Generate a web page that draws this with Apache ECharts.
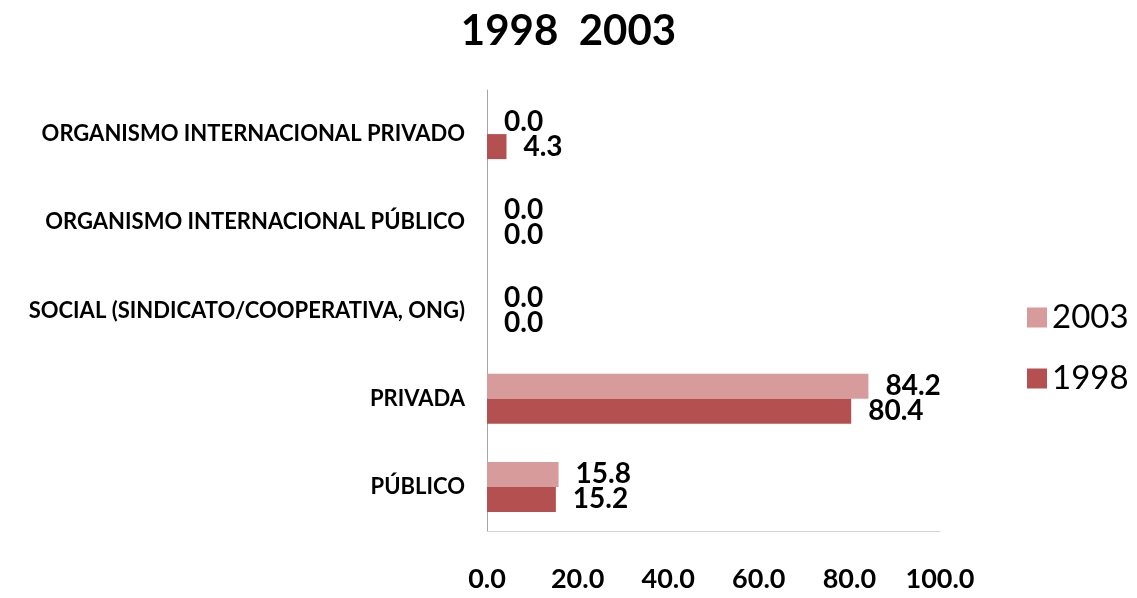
<!DOCTYPE html>
<html>
<head>
<meta charset="utf-8">
<script src="https://cdn.jsdelivr.net/npm/echarts@6/dist/echarts.min.js"></script>
<style>
  html, body { margin: 0; padding: 0; background: #fff; }
  #chart { width: 1137px; height: 598px; }
</style>
</head>
<body>
<div id="chart"></div>
<script>
// categorias de abajo hacia arriba
const categories = [
    'PÚBLICO',
    'PRIVADA',
    'SOCIAL (SINDICATO/COOPERATIVA, ONG)',
    'ORGANISMO INTERNACIONAL PÚBLICO',
    'ORGANISMO INTERNACIONAL PRIVADO'
]
const values1998 = [15.2, 80.4, 0.0, 0.0, 4.3]
const values2003 = [15.8, 84.2, 0.0, 0.0, 0.0]
const xTicks = [0, 20, 40, 60, 80, 100]

const font = 'Lato, "Open Sans", sans-serif'

const chart = echarts.init(document.getElementById('chart'))

function labelStyle () {
    return {
        show: true,
        position: 'right',
        distance: 17,
        color: '#000',
        fontFamily: font,
        fontWeight: 'bold',
        fontSize: 28,
        formatter: function (p) {
            return p.value.toFixed(1)
        }
    }
}

const option = {
    animation: false,
    title: {
        text: '1998  2003',
        left: 'center',
        top: 5,
        textStyle: {
            fontFamily: font,
            fontWeight: 'bold',
            fontSize: 42,
            color: '#000'
        }
    },
    legend: {
        orient: 'vertical',
        left: 1022,
        top: 296,
        icon: 'rect',
        itemWidth: 20,
        itemHeight: 20,
        itemGap: 28,
        data: ['2003', '1998'],
        textStyle: {
            fontFamily: font,
            fontSize: 33,
            lineHeight: 33,
            color: '#000'
        }
    },
    grid: {
        left: 487,
        right: 197,
        top: 90,
        bottom: 67,
        containLabel: false
    },
    xAxis: {
        type: 'value',
        min: 0,
        max: 100,
        interval: 20,
        axisLine: { show: true, lineStyle: { color: '#D4D4D4' } },
        axisTick: { show: false },
        splitLine: { show: false },
        axisLabel: {
            margin: 35,
            color: '#000',
            fontFamily: font,
            fontWeight: 'bold',
            fontSize: 27,
            formatter: function (v) {
                return xTicks.indexOf(v) >= 0 ? v.toFixed(1) : ''
            }
        }
    },
    yAxis: {
        type: 'category',
        data: categories,
        axisLine: { show: true, lineStyle: { color: '#A6A6A6' } },
        axisTick: { show: false },
        axisLabel: {
            margin: 22,
            color: '#000',
            fontFamily: font,
            fontWeight: 'bold',
            fontSize: 22
        }
    },
    series: [
        {
            name: '2003',
            type: 'bar',
            data: values2003,
            barWidth: 25,
            barGap: '0%',
            itemStyle: { color: '#D89B9B' },
            label: labelStyle()
        },
        {
            name: '1998',
            type: 'bar',
            data: values1998,
            barWidth: 25,
            barGap: '0%',
            itemStyle: { color: '#B45150' },
            label: labelStyle()
        }
    ]
}

chart.setOption(option)
</script>
</body>
</html>
